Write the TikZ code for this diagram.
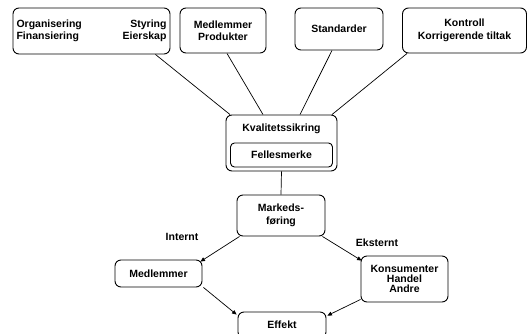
\documentclass[tikz,border=0pt]{standalone}
\usepackage{fontspec}
\setmainfont{Liberation Sans}
\usetikzlibrary{arrows.meta}
\begin{document}
\begin{tikzpicture}[x=1pt,y=-1pt,
  box/.style={draw,line width=0.9pt,rounded corners=6pt,align=center,inner sep=0pt,
    font=\fontsize{10.5}{12.5}\selectfont\bfseries},
  lbl/.style={font=\fontsize{10.5}{12.5}\selectfont\bfseries,inner sep=0pt},
  ln/.style={line width=0.7pt},
  arr/.style={line width=0.7pt,-{Triangle[length=4.5pt,width=4pt]}}]
\useasboundingbox (0,0) rectangle (528,333);
\clip (0,0) rectangle (528,333);
\node[box,minimum width=157pt,minimum height=46pt] (b1) at (91.5,31)
  {\begin{tabular*}{150pt}{@{}l@{\extracolsep{\fill}}r@{}}Organisering & Styring\\[-1pt] Finansiering & Eierskap\end{tabular*}};
\node[box,minimum width=86pt,minimum height=45pt] (b2) at (223,30.5) {Medlemmer\\Produkter};
\node[box,minimum width=88pt,minimum height=42pt] (b3) at (339,29) {Standarder};
\node[box,minimum width=124pt,minimum height=45pt] (b4) at (464.5,30.5) {Kontroll\\Korrigerende tiltak};
\node[box,minimum width=111pt,minimum height=56pt] (kv) at (281.5,143) {};
\node[lbl] (kvt) at (281.5,129) {Kvalitetssikring};
\node[box,minimum width=102pt,minimum height=24pt,rounded corners=4pt] (fm) at (281.5,155) {Fellesmerke};
\node[box,minimum width=88pt,minimum height=41pt] (mk) at (281,215.5) {Markeds-\\[1pt]føring};
\node[box,minimum width=87pt,minimum height=27pt] (md) at (158.5,273.5) {Medlemmer};
\node[box,minimum width=87pt,minimum height=46pt] (ks) at (404.5,279) {Konsumenter\\[-2.5pt]Handel\\[-2.5pt]Andre};
\node[box,minimum width=88pt,minimum height=26pt] (ef) at (282,325) {Effekt};
\node[lbl] (in) at (182,237) {Internt};
\node[lbl] (ek) at (377,243) {Eksternt};
\draw[ln] ([xshift=-15pt]b1.south east) -- ([xshift=-51.5pt]kv.north);
\draw[ln] ([xshift=4pt]b2.south) -- ([xshift=-18.5pt]kv.north);
\draw[ln] ([xshift=-7pt]b3.south) -- ([xshift=18.5pt]kv.north);
\draw[ln] ([xshift=5pt]b4.south west) -- ([xshift=50.5pt]kv.north);
\draw[ln] (kv.south) -- (mk.north);
\draw[arr] ([xshift=3pt]mk.south west) -- ([xshift=-2pt,yshift=-2pt]md.north east);
\draw[arr] ([xshift=-3pt]mk.south east) -- ([xshift=1pt,yshift=-5pt]ks.north west);
\draw[arr] ([xshift=1pt]md.south east) -- ([xshift=-1pt,yshift=-3pt]ef.north west);
\draw[arr] ([yshift=3pt]ks.south west) -- ([xshift=1pt,yshift=-4pt]ef.north east);
\end{tikzpicture}
\end{document}
